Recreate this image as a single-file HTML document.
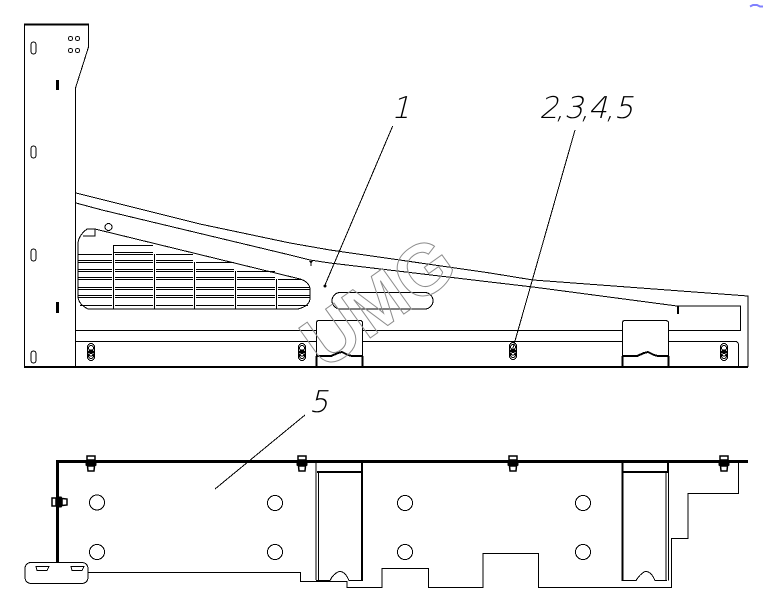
<!DOCTYPE html>
<html><head><meta charset="utf-8"><style>
html,body{margin:0;padding:0;background:#fff}
svg{display:block}
.lbl{font-family:"DejaVu Sans","Liberation Sans",sans-serif;font-weight:200;fill:#000}
</style></head><body>
<svg width="763" height="613" viewBox="0 0 763 613" xmlns="http://www.w3.org/2000/svg">
<defs>
<g id="fa" fill="none" stroke="#000" stroke-width="1" shape-rendering="crispEdges">
<rect x="-3.500" y="-8.500" width="7" height="17" rx="3.500"/><circle cy="-4" r="2.500"/><circle cy="1" r="3"/><circle cy="4" r="2.500"/>
<path d="M-3.500 0H3.500" stroke-width="2"/>
</g>
<g id="fb">
<path d="M-4 -6H4V-2H-4Z" fill="none" stroke="#000" stroke-width="1.500"/>
<rect x="-5.500" y="-2" width="11" height="6" rx="1" fill="#000"/>
<path d="M-3.500 4H3.500L3 9H-3Z" fill="#fff" stroke="#000" stroke-width="1.500"/>
</g>
</defs>
<path d="M750 6.500L753 5H757L760 6.500H763" fill="none" stroke="#8080ff" stroke-width="2"/>
<g fill="none" stroke="#000" stroke-width="1" shape-rendering="crispEdges">
<!-- top view -->
<path d="M24.500 24V367M75.500 367V88L88.500 47V24"/>
<path d="M24 24.500H89" stroke-width="2"/>
<path d="M24 367H748" stroke-width="2"/>
<path d="M76 193L140 209L200 224L290 243L330 250L490 273L533 280L748 296V367"/>
<path d="M76 203L102 210L290 255L310 260L330 263L490 282L533 287L677 306H740.500V331"/>
<path d="M76 330.500H316M362 330.500H622M668 330.500H740"/>
<path d="M76 341.500H316M362 341.500H622M668 341.500H735Q738.500 341.500 738.500 345V367"/>
<!-- holes -->
<rect x="31" y="42" width="5" height="12" rx="2.500"/>
<rect x="31" y="146" width="5" height="12" rx="2.500"/>
<rect x="31" y="249" width="5" height="12" rx="2.500"/>
<rect x="31" y="351" width="5" height="12" rx="2.500"/>
<circle cx="70.500" cy="38.500" r="2"/><circle cx="77.500" cy="38.500" r="2"/>
<circle cx="70.500" cy="50.500" r="2"/><circle cx="77.500" cy="50.500" r="2"/>
<!-- grille outline -->
<path d="M95 229H87Q78 236 78 244V296Q78 304 88 309H298Q310 306 310 298V290Q310 282 300 279L95 229V236H83"/>
<circle cx="108.500" cy="227" r="3.500"/>
<!-- grille rows -->
<path d="M114 245.500H153M114 252.500H153"/>
<path d="M78 254.500H112M115 254.500H153M156 254.500H193"/>
<path d="M78 260.500H112M115 260.500H153M156 260.500H193"/>
<path d="M78 262.500H112M115 262.500H153M156 262.500H193M196 262.500H234"/>
<path d="M78 269.500H112M115 269.500H153M156 269.500H193M196 269.500H234"/>
<path d="M78 271.500H112M115 271.500H153M156 271.500H193M196 271.500H234M237 271.500H275"/>
<path d="M78 277.500H112M115 277.500H153M156 277.500H193M196 277.500H234M237 277.500H275"/>
<path d="M78 279.500H112M115 279.500H153M156 279.500H193M196 279.500H234M237 279.500H275M278 279.500H302"/>
<path d="M78 287.500H112M115 287.500H153M156 287.500H193M196 287.500H234M237 287.500H275M278 287.500H310"/>
<path d="M78 289.500H112M115 289.500H153M156 289.500H193M196 289.500H234M237 289.500H275M278 289.500H310"/>
<path d="M78 295.500H112M115 295.500H153M156 295.500H193M196 295.500H234M237 295.500H275M278 295.500H310"/>
<path d="M78 297.500H112M115 297.500H153M156 297.500H193M196 297.500H234M237 297.500H275M278 297.500H310"/>
<path d="M80 305.500H112M115 305.500H153M156 305.500H193M196 305.500H234M237 305.500H275M278 305.500H308"/>
<path d="M113.500 245V309M154.500 254V309M194.500 262V309M235.500 271V309M276.500 279V309"/>
<rect x="332" y="292.500" width="101" height="16.500" rx="8.250"/>
<!-- cutouts -->
<path d="M316.500 356V323Q316.500 320.500 319 320.500H360Q362.500 320.500 362.500 323V356"/>
<path d="M622.500 356V323Q622.500 320.500 625 320.500H665Q668.500 320.500 668.500 323V356"/>
<path d="M316 356H331L338 353L342 352L348 355L352 356H362" stroke-width="2"/>
<path d="M622 356H637L644 353L648 352L654 355L658 356H668" stroke-width="2"/>
<path d="M316.500 356V367M362.500 356V367M622.500 356V367M668.500 356V367" stroke-width="2"/>
<!-- leaders -->
<path d="M392.700 126L325 285"/>
<path d="M575 130L513 348"/>
<path d="M305 415L215 489"/>
<!-- bottom view -->
<path d="M57.500 562V461.500H748" stroke-width="3"/>
<rect x="25" y="562.500" width="63" height="21" rx="6"/>
<path d="M36 566.500H49L47 570.500H37ZM71 566.500H84L82 570.500H72Z"/>
<path d="M88 572.500H300.500V581.500H347V587.500H382V568.500H428.500V587.500H483V553.500H538.500V587.500H671.500V538.500H688V493.500H738.500V461"/>
<circle cx="97" cy="502.500" r="7.500"/><circle cx="97" cy="552" r="7.500"/>
<circle cx="275" cy="503" r="7.500"/><circle cx="275" cy="552" r="7.500"/>
<circle cx="405" cy="503" r="7.500"/><circle cx="405" cy="552" r="7.500"/>
<circle cx="583" cy="503" r="7.500"/><circle cx="583" cy="552" r="7.500"/>
<path d="M316 461V580M318.500 472V580"/>
<path d="M362 461V581M317 472H362" stroke-width="2"/>
<path d="M316 580.500H330Q333 574 339 571.500Q345 571 349 580.500H362"/>
<path d="M622.500 461V581M622 472H668M668 461V472" stroke-width="2"/>
<path d="M666 472V580.500M668.500 472V580.500"/>
<path d="M622 580.500H636Q640 574 645 571.500Q651 571 655 580.500H667"/>
</g>
<rect x="56" y="80" width="3" height="10" fill="#000"/>
<rect x="56" y="302" width="3" height="11" fill="#000"/>
<rect x="677" y="306" width="2" height="8" fill="#000"/>
<path d="M309 261H313L311.500 263V266H310.500V263Z" fill="#000"/>
<circle cx="325" cy="286" r="1.500" fill="#000"/>
<use href="#fa" x="91" y="352"/><use href="#fa" x="302" y="352"/><use href="#fa" x="513" y="351"/><use href="#fa" x="724" y="352"/>
<use href="#fb" x="91" y="462"/><use href="#fb" x="302" y="462"/><use href="#fb" x="513" y="462"/><use href="#fb" x="724" y="462"/>
<use href="#fb" transform="translate(58 502) rotate(-90)"/>
<!-- labels -->
<text class="lbl" font-size="30" transform="translate(391 118) skewX(-14)">1</text>
<text class="lbl" font-size="30" x="-1 15 24 40 48 65 74" transform="translate(540 118) skewX(-14)">2,3,4,5</text>
<text class="lbl" font-size="30" transform="translate(309 412) skewX(-14)">5</text>
<!-- watermark -->
<text x="0" y="0" transform="translate(324 371) rotate(-35.500)" font-family="'Liberation Sans',sans-serif" font-weight="700" font-size="72" textLength="168" lengthAdjust="spacingAndGlyphs" fill="none" stroke="#8c8c8c" stroke-width="1">UMG</text>
</svg>
</body></html>
